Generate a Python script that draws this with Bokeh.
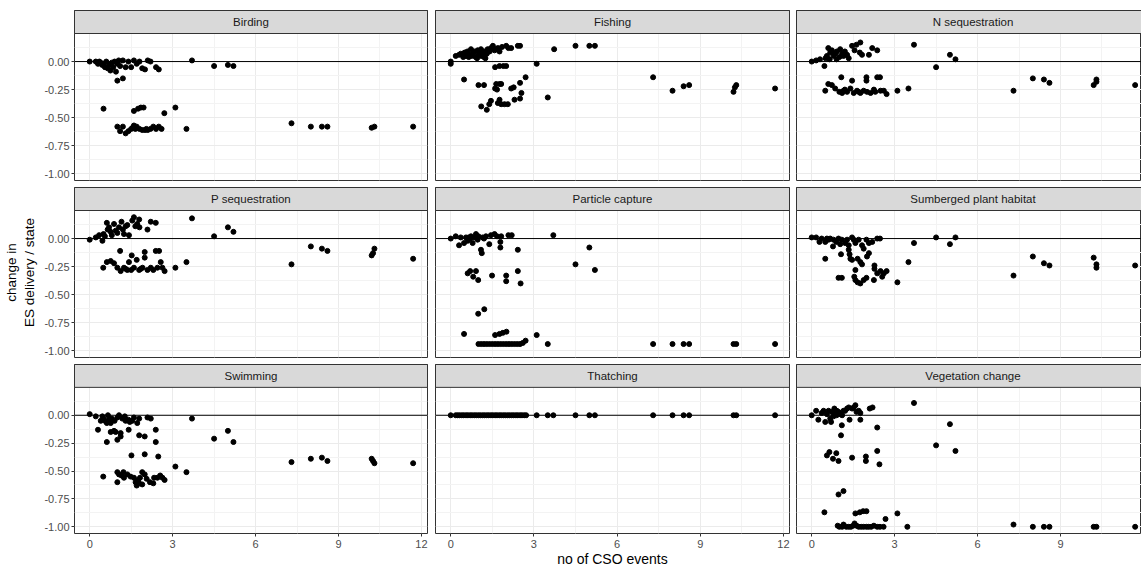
from bokeh.plotting import figure
from bokeh.layouts import column, row
from bokeh.models import FixedTicker, Span, PrintfTickFormatter, ColumnDataSource
from bokeh.embed import file_html
from bokeh.resources import INLINE
from bokeh.core.properties import value

# ---------------- data (x = no of CSO events, y = change in ES delivery / state) -------------
panel_names = ["Birding", "Fishing", "N sequestration",
               "P sequestration", "Particle capture", "Sumberged plant habitat",
               "Swimming", "Thatching", "Vegetation change"]

birding = [(0, 0), (0.22, 0), (0.3, -0.02), (0.35, 0), (0.4, -0.01), (0.45, -0.03), (0.5, -0.02),
           (0.55, -0.05), (0.6, 0), (0.65, -0.06), (0.7, -0.03), (0.75, -0.08), (0.8, -0.01),
           (0.85, -0.05), (0.9, 0), (0.95, -0.09), (1.0, -0.02), (1.05, 0.01), (1.1, -0.04),
           (1.2, 0.01), (1.3, -0.05), (1.4, 0), (1.5, -0.05), (1.6, 0.01), (1.7, -0.02), (1.8, 0),
           (1.9, -0.06), (2.0, -0.07), (2.1, 0.01), (2.2, 0), (2.4, -0.05), (2.5, -0.07),
           (1.0, -0.17), (1.2, -0.15), (3.7, 0.01), (4.5, -0.04), (5.0, -0.03), (5.2, -0.04),
           (0.5, -0.42), (1.6, -0.44), (1.75, -0.42), (1.85, -0.41), (1.95, -0.41), (2.7, -0.46),
           (3.1, -0.41),
           (1.0, -0.58), (1.1, -0.62), (1.2, -0.58), (1.3, -0.64), (1.4, -0.62), (1.5, -0.60),
           (1.6, -0.57), (1.7, -0.58), (1.8, -0.60), (1.9, -0.61), (2.0, -0.61), (2.1, -0.61),
           (2.2, -0.60), (2.3, -0.58), (2.4, -0.60), (2.5, -0.58), (2.6, -0.60), (3.5, -0.60),
           (1.55, -0.59), (1.65, -0.60), (2.05, -0.60),
           (7.3, -0.55), (8.0, -0.58), (8.4, -0.58), (8.6, -0.58), (10.2, -0.59), (10.3, -0.58),
           (11.7, -0.58)]

fishing = [(0, 0), (0, -0.02), (0.18, 0.05), (0.3, 0.06), (0.36, 0.07), (0.45, 0.04), (0.5, 0.08),
           (0.6, 0.09), (0.65, 0.04), (0.7, 0.06), (0.73, 0.11), (0.8, 0.07), (0.85, 0.09),
           (0.9, 0.04), (0.97, 0.10), (1.0, 0.06), (1.05, 0.08), (1.09, 0.11), (1.15, 0.07),
           (1.21, 0.09), (1.25, 0.03), (1.33, 0.11), (1.4, 0.09), (1.45, 0.12), (1.52, 0.14),
           (1.58, 0.10), (1.64, 0.11), (1.7, 0.12), (1.76, 0.09), (1.85, 0.13), (2.0, 0.14),
           (2.08, 0.12), (2.18, 0.12), (2.42, 0.14), (2.5, 0.14), (3.73, 0.11), (4.5, 0.14),
           (5.0, 0.14), (5.2, 0.14), (3.1, -0.02), (0.55, 0.05), (0.75, 0.05), (1.1, 0.05),
           (1.3, 0.07), (0.95, 0.03), (1.2, 0.04),
           (1.6, -0.05), (1.76, -0.04), (1.9, -0.04), (2.0, -0.04),
           (0.48, -0.16), (1.0, -0.21), (1.2, -0.21), (1.64, -0.20), (1.76, -0.20), (1.82, -0.20),
           (1.6, -0.24), (1.67, -0.25), (2.18, -0.24), (2.27, -0.23), (2.5, -0.19), (2.7, -0.14),
           (2.55, -0.28), (2.5, -0.33), (2.3, -0.34), (2.06, -0.38), (1.94, -0.38), (1.82, -0.38),
           (1.76, -0.34), (1.7, -0.37), (1.45, -0.35), (1.39, -0.38), (1.3, -0.43), (1.1, -0.40),
           (3.5, -0.32),
           (7.3, -0.14), (8.0, -0.26), (8.4, -0.22), (8.6, -0.21), (10.2, -0.27), (10.25, -0.23),
           (10.3, -0.21), (11.7, -0.24)]

n_sequestration = [(0, 0), (0.16, 0.01), (0.3, 0.02), (0.46, -0.04), (0.5, 0.03), (0.55, 0.05),
                   (0.6, 0.12), (0.65, 0.02), (0.67, 0.08), (0.73, 0.10), (0.79, 0.05), (0.85, 0.07),
                   (0.9, 0.02), (0.91, 0.09), (1.0, 0.04), (1.03, 0.11), (1.1, 0.07), (1.15, 0.05),
                   (1.2, 0.09), (1.28, 0.06), (1.34, 0.03), (1.46, 0.14), (1.55, 0.10), (1.62, 0.15),
                   (1.76, 0.17), (1.74, 0.08), (1.82, 0.06), (2.07, 0.06), (2.19, 0.12), (2.37, 0.10),
                   (3.7, 0.15), (4.5, -0.05), (5.0, 0.06), (5.2, 0.02),
                   (0.49, -0.26), (0.6, -0.20), (0.73, -0.21), (0.85, -0.24), (1.0, -0.27),
                   (1.07, -0.14), (1.15, -0.26), (1.28, -0.27), (1.4, -0.24), (1.46, -0.17),
                   (1.52, -0.28), (1.64, -0.26), (1.76, -0.28), (1.88, -0.26), (1.98, -0.14),
                   (1.98, -0.17), (2.13, -0.28), (2.25, -0.25), (2.37, -0.14), (2.47, -0.14),
                   (2.49, -0.26), (2.61, -0.26), (2.71, -0.29), (3.1, -0.26), (3.5, -0.24),
                   (1.1, -0.28), (1.7, -0.27), (2.0, -0.27), (2.3, -0.27), (1.2, -0.25),
                   (7.3, -0.26), (8.0, -0.15), (8.4, -0.16), (8.6, -0.19), (10.2, -0.21),
                   (10.3, -0.16), (10.3, -0.18), (11.7, -0.21)]

p_sequestration = [(0, -0.01), (0.22, 0.01), (0.34, 0.03), (0.46, -0.02), (0.5, 0.04), (0.55, 0.02),
                   (0.62, 0.14), (0.65, 0.08), (0.7, 0.10), (0.76, 0.06), (0.8, 0.03), (0.88, 0.13),
                   (0.94, 0.07), (1.0, 0.05), (1.06, 0.10), (1.15, 0.15), (1.2, 0.08), (1.24, 0.04),
                   (1.3, 0.11), (1.36, 0.12), (1.42, 0.03), (1.54, 0.16), (1.6, 0.19), (1.65, 0.11),
                   (1.72, 0.13), (1.79, 0.17), (1.8, 0.10), (2.09, 0.08), (2.21, 0.15), (2.39, 0.14),
                   (3.7, 0.18), (4.5, 0.02), (5.0, 0.10), (5.2, 0.06),
                   (0.49, -0.26), (0.62, -0.21), (0.76, -0.20), (0.88, -0.22), (1.0, -0.26),
                   (1.1, -0.11), (1.12, -0.29), (1.24, -0.26), (1.36, -0.28), (1.42, -0.21),
                   (1.52, -0.15), (1.6, -0.26), (1.7, -0.19), (1.79, -0.28), (1.91, -0.26),
                   (1.99, -0.12), (1.99, -0.17), (2.09, -0.28), (2.21, -0.26), (2.39, -0.11),
                   (2.51, -0.11), (2.45, -0.26), (2.57, -0.21), (2.63, -0.26), (2.71, -0.29),
                   (3.1, -0.26), (3.5, -0.21), (1.3, -0.27), (1.5, -0.28), (1.85, -0.27), (2.3, -0.28),
                   (7.3, -0.23), (8.0, -0.07), (8.4, -0.09), (8.6, -0.11), (10.2, -0.15),
                   (10.25, -0.13), (10.3, -0.09), (11.7, -0.18)]

particle_capture = [(0, 0), (0.18, 0.02), (0.3, -0.06), (0.36, 0.01), (0.48, -0.04), (0.55, 0.01),
                    (0.61, -0.02), (0.7, 0.0), (0.73, 0.02), (0.79, -0.04), (0.85, 0.01), (0.91, 0.04),
                    (0.97, -0.01), (1.09, -0.10), (1.12, -0.13), (1.15, 0.01), (1.27, 0.02),
                    (1.39, -0.05), (1.45, 0.03), (1.58, 0.04), (1.67, 0.02), (1.79, -0.03),
                    (1.79, -0.08), (1.82, 0.02), (2.08, 0.03), (2.2, 0.03), (2.42, -0.10), (3.7, 0.03),
                    (5.0, -0.08), (1.0, 0.02), (1.2, 0.0), (0.65, 0.01),
                    (0.61, -0.31), (0.7, -0.29), (0.81, -0.34), (0.91, -0.29), (0.99, -0.37),
                    (1.49, -0.33), (2.0, -0.33), (2.0, -0.38), (2.42, -0.29), (2.52, -0.40),
                    (4.5, -0.23), (5.2, -0.28),
                    (0.99, -0.67), (1.21, -0.63),
                    (0.48, -0.85), (1.6, -0.86), (1.76, -0.85), (1.88, -0.84), (2.01, -0.83),
                    (3.1, -0.86),
                    (1.0, -0.94), (1.1, -0.94), (1.2, -0.94), (1.3, -0.94), (1.4, -0.94), (1.5, -0.94),
                    (1.6, -0.94), (1.7, -0.94), (1.8, -0.94), (1.9, -0.94), (2.0, -0.94), (2.1, -0.94),
                    (2.2, -0.94), (2.3, -0.94), (2.4, -0.94), (2.5, -0.94), (2.6, -0.93), (2.7, -0.91),
                    (3.5, -0.94), (7.3, -0.94), (8.0, -0.94), (8.4, -0.94), (8.6, -0.94),
                    (10.2, -0.94), (10.3, -0.94), (11.7, -0.94)]

submerged_habitat = [(0, 0.01), (0.16, 0.01), (0.28, -0.03), (0.36, 0), (0.49, -0.03), (0.55, 0),
                     (0.61, -0.01), (0.67, 0), (0.77, -0.07), (0.79, -0.01), (0.89, -0.03), (0.97, 0),
                     (1.03, -0.05), (1.09, -0.01), (1.21, -0.04), (1.28, -0.01), (1.34, -0.06),
                     (1.46, 0.01), (1.52, -0.01), (1.58, -0.04), (1.7, -0.01), (1.82, -0.06),
                     (1.98, -0.01), (2.07, -0.04), (2.19, -0.03), (2.37, 0), (2.47, 0),
                     (0.49, -0.18), (1.06, -0.14), (1.34, -0.10), (1.37, -0.14), (1.4, -0.18),
                     (1.46, -0.19), (1.66, -0.18), (1.76, -0.21), (1.82, -0.23), (1.88, -0.09),
                     (2.0, -0.16), (2.07, -0.13), (1.58, -0.28), (1.54, -0.34), (1.58, -0.37),
                     (1.66, -0.39), (1.76, -0.40), (1.88, -0.37), (1.98, -0.35), (0.97, -0.35),
                     (1.09, -0.35), (2.27, -0.24), (2.27, -0.27), (2.37, -0.31), (2.49, -0.29),
                     (2.55, -0.34), (2.61, -0.31), (2.71, -0.29), (2.25, -0.37), (3.1, -0.39),
                     (3.5, -0.21), (3.7, -0.04), (4.5, 0.01), (5.0, -0.05), (5.2, 0.01),
                     (7.3, -0.33), (8.0, -0.16), (8.4, -0.22), (8.6, -0.24), (10.2, -0.17),
                     (10.3, -0.23), (10.3, -0.26), (11.7, -0.24)]

swimming = [(0, 0.01), (0.22, -0.01), (0.3, -0.13), (0.4, -0.05), (0.46, -0.01), (0.5, -0.03),
            (0.55, -0.05), (0.62, -0.07), (0.62, -0.24), (0.66, 0), (0.7, -0.04), (0.76, -0.07),
            (0.8, -0.03), (0.76, -0.15), (0.88, -0.14), (0.94, -0.15), (1.0, -0.22), (1.06, 0),
            (1.12, -0.16), (1.12, -0.19), (1.18, -0.03), (1.27, -0.01), (1.3, -0.05), (1.41, -0.13),
            (1.45, -0.06), (1.54, -0.05), (1.6, -0.02), (1.72, -0.07), (1.79, -0.03), (1.79, -0.18),
            (1.99, -0.19), (2.09, -0.02), (2.21, -0.03), (2.39, -0.13), (2.39, -0.24), (3.7, -0.03),
            (4.5, -0.21), (5.0, -0.14), (5.2, -0.24), (0.9, -0.05), (1.0, -0.02), (1.4, -0.04),
            (1.51, -0.36), (1.99, -0.35), (2.48, -0.37), (3.1, -0.46), (3.5, -0.51),
            (0.49, -0.55), (1.0, -0.60), (1.0, -0.51), (1.06, -0.53), (1.15, -0.54), (1.22, -0.51),
            (1.24, -0.56), (1.36, -0.53), (1.48, -0.55), (1.6, -0.56), (1.66, -0.60), (1.7, -0.63),
            (1.79, -0.61), (1.82, -0.56), (1.9, -0.51), (1.99, -0.53), (2.06, -0.57), (2.18, -0.60),
            (2.3, -0.61), (2.33, -0.56), (2.45, -0.56), (2.55, -0.54), (2.63, -0.56), (2.71, -0.58),
            (1.75, -0.58), (1.9, -0.62),
            (7.3, -0.42), (8.0, -0.39), (8.4, -0.38), (8.6, -0.41), (10.2, -0.39), (10.25, -0.41),
            (10.3, -0.43), (11.7, -0.43)]

thatching_x = [0, 0.18, 0.25, 0.32, 0.4, 0.47, 0.55, 0.62, 0.7, 0.77, 0.85, 0.92, 1.0, 1.07, 1.15,
               1.22, 1.3, 1.37, 1.45, 1.52, 1.6, 1.67, 1.75, 1.82, 1.9, 1.97, 2.05, 2.12, 2.2, 2.27,
               2.35, 2.42, 2.5, 2.57, 2.65, 2.72, 3.1, 3.5, 3.7, 4.5, 5.0, 5.2, 7.3, 8.0, 8.4, 8.6,
               10.2, 10.3, 11.7]
thatching = [(xv, 0.0) for xv in thatching_x]

vegetation_change = [(0, 0), (0.16, 0.04), (0.24, -0.04), (0.36, 0.02), (0.43, 0.04), (0.49, -0.06),
                     (0.55, 0.01), (0.61, 0.04), (0.67, -0.03), (0.7, -0.06), (0.73, 0.03),
                     (0.79, -0.01), (0.82, 0.06), (0.85, 0.02), (0.91, 0.04), (0.97, 0.03),
                     (1.03, 0.01), (1.09, -0.09), (1.06, -0.18), (1.15, 0.04), (1.21, 0.04),
                     (1.28, 0.06), (1.34, 0.07), (1.37, -0.04), (1.46, 0.06), (1.52, 0.07),
                     (1.58, 0.09), (1.62, 0.03), (1.7, 0.04), (1.76, -0.04), (1.76, 0.02), (2.1, 0.06),
                     (2.2, 0.07), (2.37, -0.11), (3.7, 0.11), (5.0, -0.08), (4.5, -0.27), (5.2, -0.32),
                     (0.9, 0.0), (1.1, 0.0),
                     (0.55, -0.36), (0.64, -0.33), (0.77, -0.39), (0.89, -0.34), (0.97, -0.41),
                     (1.46, -0.38), (1.96, -0.37), (1.96, -0.41), (2.37, -0.32), (2.45, -0.44),
                     (0.97, -0.71), (1.15, -0.68),
                     (0.46, -0.87), (1.58, -0.88), (1.74, -0.87), (1.86, -0.86), (1.98, -0.86),
                     (3.1, -0.88), (2.67, -0.93),
                     (0.94, -0.99), (1.0, -1.0), (1.1, -1.0), (1.15, -0.98), (1.25, -1.0), (1.34, -1.0),
                     (1.42, -1.0), (1.5, -0.99), (1.55, -0.97), (1.62, -0.99), (1.7, -1.0), (1.79, -1.0),
                     (1.88, -1.0), (1.98, -1.0), (2.06, -1.0), (2.15, -1.0), (2.25, -0.99), (2.37, -1.0),
                     (2.47, -1.0), (2.6, -1.0), (3.46, -1.0), (7.3, -0.98), (8.0, -1.0), (8.4, -1.0),
                     (8.6, -1.0), (10.2, -1.0), (10.3, -1.0), (11.7, -1.0)]

panel_data = [birding, fishing, n_sequestration,
              p_sequestration, particle_capture, submerged_habitat,
              swimming, thatching, vegetation_change]

x_ticks = [0, 3, 6, 9, 12]
x_minor = [1.5, 4.5, 7.5, 10.5]
y_ticks = [-1.0, -0.75, -0.5, -0.25, 0.0]
y_minor = [-0.875, -0.625, -0.375, -0.125, 0.125]

# ---------------- layout / style --------------------------------------------------------------
FONT = "Liberation Sans"
X_START, X_END_FULL, X_END_CLIP = -0.55, 12.22, 11.93
Y_START, Y_END = -1.06, 0.25
FRAME_H = 170
STRIP_PX = 23
STRIP_UNITS = (Y_END - Y_START) * STRIP_PX / (FRAME_H - STRIP_PX)
Y_TOP = Y_END + STRIP_UNITS

col_w = [431, 361, 349]
col_border = [(74, 4), (4, 3), (4, 0)]
row_h = [183, 177, 209]
row_border = [(10, 3), (4, 3), (4, 35)]

figs = []
for i, (name, pts) in enumerate(zip(panel_names, panel_data)):
    r, c = divmod(i, 3)
    x_end = X_END_CLIP if c == 2 else X_END_FULL
    p = figure(width=col_w[c], height=row_h[r],
               x_range=(X_START, x_end), y_range=(Y_START, Y_TOP),
               output_backend="svg", toolbar_location=None,
               x_axis_location="below" if r == 2 else None,
               y_axis_location="left" if c == 0 else None,
               min_border_left=col_border[c][0], min_border_right=col_border[c][1],
               min_border_top=row_border[r][0], min_border_bottom=row_border[r][1])
    p.outline_line_color = "#333333"
    p.outline_line_width = 1
    p.background_fill_color = "white"
    p.border_fill_color = "white"

    p.xgrid.ticker = FixedTicker(ticks=x_ticks, minor_ticks=x_minor)
    p.ygrid.ticker = FixedTicker(ticks=y_ticks, minor_ticks=y_minor)
    for g in (p.xgrid, p.ygrid):
        g.grid_line_color = "#EBEBEB"
        g.grid_line_width = 1
        g.minor_grid_line_color = "#F3F3F3"
        g.minor_grid_line_width = 1

    if c == 0:
        ax = p.yaxis[0]
        ax.ticker = FixedTicker(ticks=y_ticks)
        ax.formatter = PrintfTickFormatter(format="%.2f")
        ax.axis_line_color = None
        ax.major_tick_out = 3
        ax.major_tick_in = 0
        ax.minor_tick_out = 0
        ax.minor_tick_in = 0
        ax.major_tick_line_color = "#333333"
        ax.major_label_text_font = FONT
        ax.major_label_text_font_size = "11px"
        ax.major_label_text_color = "#4D4D4D"
        ax.major_label_standoff = 2
        if r == 1:
            ax.axis_label = "change in\nES delivery / state"
            ax.axis_label_text_font = FONT
            ax.axis_label_text_font_size = "13.5px"
            ax.axis_label_text_font_style = "normal"
            ax.axis_label_text_color = "black"
            ax.axis_label_standoff = 4
    if r == 2:
        ax = p.xaxis[0]
        ax.ticker = FixedTicker(ticks=x_ticks)
        ax.axis_line_color = None
        ax.major_tick_out = 3
        ax.major_tick_in = 0
        ax.minor_tick_out = 0
        ax.minor_tick_in = 0
        ax.major_tick_line_color = "#333333"
        ax.major_label_text_font = FONT
        ax.major_label_text_font_size = "11px"
        ax.major_label_text_color = "#4D4D4D"
        ax.major_label_standoff = 3
        if c == 1:
            ax.axis_label = "no of CSO events"
            ax.axis_label_text_font = FONT
            ax.axis_label_text_font_size = "14px"
            ax.axis_label_text_font_style = "normal"
            ax.axis_label_text_color = "black"
            ax.axis_label_standoff = 0

    src = ColumnDataSource(data=dict(x=[q[0] for q in pts], y=[q[1] for q in pts]))
    p.add_layout(Span(location=0, dimension="width", line_color="black", line_width=1))
    p.scatter("x", "y", source=src, size=5, color="black")

    # facet strip
    p.quad(left=[X_START], right=[x_end], bottom=[Y_END], top=[Y_TOP],
           fill_color="#D9D9D9", line_color="#333333", line_width=1, level="overlay")
    p.text(x=[(X_START + X_END_FULL) / 2], y=[(Y_END + Y_TOP) / 2], text=[name],
           text_align="center", text_baseline="middle", text_font=value(FONT),
           text_font_size="11.5px", text_color="#1A1A1A", level="overlay")
    figs.append(p)

layout = column(row(*figs[0:3]), row(*figs[3:6]), row(*figs[6:9]))
open("out.html", "w").write(file_html(layout, INLINE, title="ES delivery vs CSO events"))
